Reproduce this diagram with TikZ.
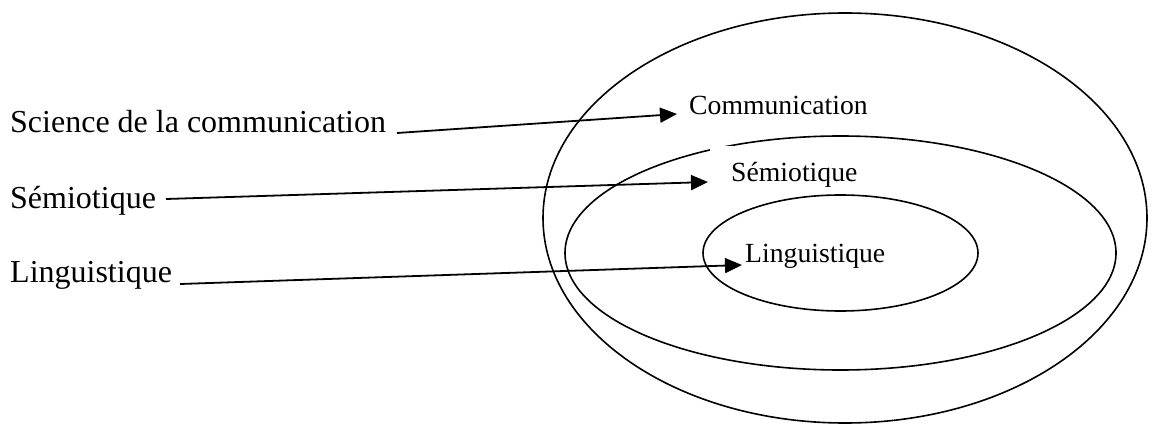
\documentclass[tikz,border=0pt]{standalone}
\usepackage{fontspec}
\setmainfont{Liberation Serif}
\usetikzlibrary{arrows.meta}
\tikzset{
  leftlabel/.style={anchor=base west, inner sep=0pt, font=\fontsize{32}{36}\selectfont},
  rightlabel/.style={anchor=base west, inner sep=0pt, font=\fontsize{27.7}{32}\selectfont},
  ring/.style={draw=black, line width=1.6pt},
  pointer/.style={draw=black, line width=1.8pt, -{Triangle[length=17pt,width=15pt]}}
}
\begin{document}
\begin{tikzpicture}[x=1pt,y=-1pt]
\useasboundingbox (0,0) rectangle (1152,425);
% ellipses
\draw[ring] (845,218) ellipse [x radius=302, y radius=205];
\draw[ring] (840.5,253) ellipse [x radius=275.5, y radius=117];
\draw[ring] (840.5,253) ellipse [x radius=137.5, y radius=58];
% left labels
\node[leftlabel] (sci) at (10,133) {Science de la communication};
\node[leftlabel] (semL) at (10,208) {Sémiotique};
\node[leftlabel] (linL) at (10,282) {Linguistique};
% right labels
\node[rightlabel] (com) at (689,115) {Communication};
\begin{scope}
\clip (710,146) rectangle (875,186.5);
\fill[white] (710,146) rectangle (875,186.5);
\node[rightlabel] (semR) at (731,182) {Sémiotique};
\end{scope}
\node[rightlabel] (linR) at (745,262) {Linguistique};
% connector end points
\coordinate (s1) at (397,133);
\coordinate (t1) at (677,114);
\coordinate (s2) at (166,199);
\coordinate (t2) at (708,182);
\coordinate (s3) at (180,284);
\coordinate (t3) at (742,265);
\draw[pointer] (s1) -- (t1);
\draw[pointer] (s2) -- (t2);
\draw[pointer] (s3) -- (t3);
\end{tikzpicture}
\end{document}
